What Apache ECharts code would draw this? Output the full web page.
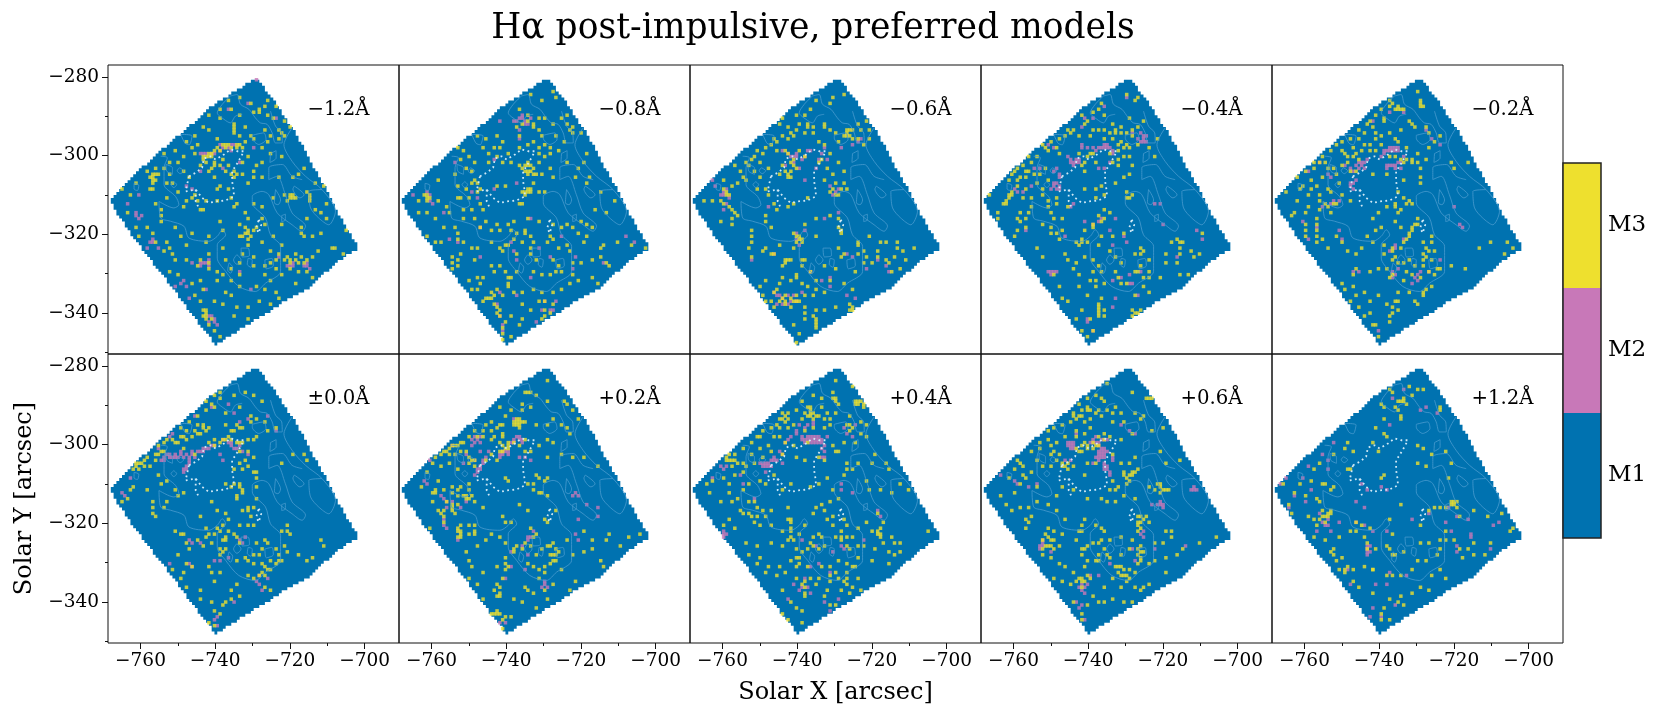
<!DOCTYPE html>
<html>
<head>
<meta charset="utf-8">
<style>html,body{margin:0;padding:0;background:#fff}#container{width:1660px;height:717px}</style>
<script src="https://cdn.jsdelivr.net/npm/echarts@6/dist/echarts.min.js"></script>
</head>
<body>
<div id="container"></div>
<script>
/* labels and ticks */
var offsets = ['−1.2Å','−0.8Å','−0.6Å','−0.4Å','−0.2Å','±0.0Å','+0.2Å','+0.4Å','+0.6Å','+1.2Å'];
var modelNames = ['M1','M2','M3'];
var modelColors = ['#0072b0','#c878b8','#eee02e'];
var xTicks = [-760,-740,-720,-700];
var xMinorTicks = [-750,-730,-710];
var yTicks = [-280,-300,-320,-340];
var yMinorTicks = [-290,-310,-330,-350];

/* map cells as col,row pairs on the 0.75 arcsec grid */
var m3_n12 = [43,12, 47,11, 51,13, 57,12, 56,14, 54,16, 54,15, 60,14, 52,16, 40,18, 47,17, 57,17, 59,18, 63,19, 65,21, 45,21, 45,22, 49,21, 34,21, 36,22, 61,22, 62,23, 63,24, 61,25, 58,24, 56,22, 31,24, 39,25, 47,24, 52,25, 57,26, 44,28, 42,28, 46,28, 48,28, 40,29, 38,29, 36,30, 30,28, 28,26, 24,29, 27,31, 31,30, 34,32, 37,31, 41,32, 50,31, 58,30, 62,31, 22,33, 25,33, 20,35, 35,33, 38,33, 33,34, 40,34, 43,34, 48,33, 55,33, 53,34, 52,36, 45,36, 36,36, 27,36, 22,37, 17,35, 21,40, 15,38, 18,37, 23,40, 29,38, 38,38, 52,38, 55,38, 50,40, 40,41, 39,42, 45,38, 70,35, 68,37, 66,38, 74,40, 77,41, 17,37, 17,39, 15,42, 21,45, 25,43, 31,44, 35,46, 39,46, 44,45, 43,42, 52,47, 55,48, 63,44, 65,44, 67,45, 64,46, 71,43, 72,46, 72,44, 79,44, 78,47, 74,49, 76,50, 17,47, 19,49, 8,44, 5,42, 7,50, 19,51, 19,53, 34,49, 40,53, 49,50, 50,52, 47,54, 49,55, 50,56, 52,56, 55,52, 56,54, 53,55, 62,54, 59,58, 69,57, 73,58, 76,57, 85,56, 30,57, 36,58, 41,56, 14,55, 16,57, 11,58, 28,61, 35,60, 41,62, 47,58, 50,61, 48,64, 52,65, 58,63, 55,60, 60,66, 63,66, 65,66, 67,64, 69,65, 71,66, 73,65, 75,63, 80,62, 84,64, 17,60, 20,63, 23,64, 28,66, 33,66, 36,64, 42,66, 47,67, 52,68, 60,69, 65,69, 22,70, 25,71, 32,68, 36,67, 36,69, 47,71, 56,71, 58,73, 62,71, 68,70, 71,70, 73,72, 30,74, 39,73, 44,73, 47,75, 42,77, 44,78, 53,75, 56,76, 60,77, 67,74, 31,78, 33,80, 35,84, 34,83, 34,85, 38,80, 41,81, 46,82, 50,82, 54,80, 58,81, 61,79, 37,86, 45,85, 50,86, 38,90, 36,88, 40,92, 42,93, 31,88, 33,90,
    16,37, 16,38, 16,39, 16,40, 45,20, 45,23, 46,27, 47,27, 43,27, 41,27, 42,27, 39,28, 37,30, 34,31, 35,31, 36,31, 38,34, 37,35, 42,36, 44,37, 46,37, 48,37, 65,45, 66,44, 66,45, 72,45, 35,83, 35,85, 35,86, 50,57, 49,57, 51,58, 48,58, 50,59, 64,65, 65,67, 67,66, 68,67, 70,67, 61,64, 30,45, 32,46, 28,46, 27,48, 33,49, 45,48, 46,47, 16,42, 24,55, 26,58, 10,55, 21,60, 22,62, 24,66, 39,70, 41,71, 33,73, 34,76, 44,69, 56,68, 58,67, 62,61, 70,58, 78,52, 81,62, 69,55, 71,52, 59,45, 61,38, 55,28, 51,24, 49,26, 44,15, 40,15, 36,17, 32,27, 20,30, 14,36, 10,40];
var m2_n12 = [53,5, 50,13, 43,15, 60,18, 52,28, 45,27, 40,29, 37,30, 33,30, 44,29, 33,36, 41,35, 47,33, 7,47, 10,51, 12,51, 16,59, 14,62, 18,62, 30,67, 33,68, 36,68, 47,70, 51,76, 61,65, 66,68, 72,69, 24,75, 28,75, 29,79, 36,87, 38,86, 39,88, 11,44, 35,76, 28,41, 30,42,
    40,27, 41,28, 43,28, 44,27, 38,30, 35,30, 34,30, 64,68, 65,68, 66,67, 70,68, 71,67, 71,68, 33,67, 34,67, 35,67, 36,66, 26,74, 27,73, 36,85, 37,85, 38,87, 10,50, 11,52, 16,60, 15,60];

var m3_n08 = [47,10, 55,9, 56,11, 51,12, 43,15, 46,17, 50,18, 46,19, 48,21, 50,22, 52,18, 58,18, 60,20, 55,20, 62,21, 65,23, 62,23, 59,26, 35,24, 31,25, 37,26, 28,24, 43,24, 46,27, 48,26, 50,28, 52,27, 54,28, 36,28, 34,28, 30,28, 23,29, 21,28, 25,31, 27,33, 32,30, 35,31, 39,30, 43,28, 50,30, 22,32, 24,35, 26,36, 32,33, 37,33, 40,33, 43,34, 46,33, 47,34, 48,35, 45,36, 46,36, 50,33, 52,31, 54,35, 51,37, 49,37, 55,38, 67,30, 66,33, 64,35, 68,38, 26,40, 28,40, 35,41, 38,41, 47,42, 46,43, 48,40, 45,44, 20,37, 21,41, 24,42, 43,47, 44,47, 50,43, 52,43, 9,44, 10,45, 21,45, 22,45, 25,45, 23,49, 26,49, 29,47, 30,49, 14,46, 17,48, 3,50, 7,50, 27,52, 31,53, 29,55, 35,54, 39,54, 41,53, 46,52, 42,57, 40,56, 20,55, 21,57, 23,52, 33,56, 36,56, 41,59, 45,56, 45,57, 50,53, 55,54, 58,55, 60,54, 62,55, 64,57, 69,55, 10,58, 13,60, 15,60, 21,59, 23,60, 28,62, 33,60, 38,61, 39,61, 36,62, 37,63, 44,60, 47,58, 54,58, 60,61, 61,63, 67,58, 66,60, 73,61, 72,62, 78,60, 83,61, 88,62, 19,65, 19,67, 19,69, 21,66, 21,68, 27,66, 33,68, 36,68, 34,70, 42,64, 47,62, 49,66, 55,66, 57,68, 62,67, 65,67, 69,66, 72,65, 74,67, 75,68, 28,72, 30,72, 38,70, 39,72, 39,74, 42,70, 48,70, 51,71, 54,71, 56,70, 58,70, 62,71, 64,73, 69,72, 71,74, 26,76, 28,76, 35,76, 37,78, 31,79, 32,79, 33,79, 30,80, 41,77, 44,77, 48,76, 51,77, 55,77, 58,76, 61,74, 27,81, 35,82, 35,84, 36,85, 44,81, 47,83, 50,80, 52,83, 54,84, 55,81, 44,86, 43,88, 40,85, 38,87, 37,89, 37,91, 37,93, 40,92,
    46,42, 47,43, 45,43, 44,43, 46,34, 45,34, 47,36, 46,37, 48,37, 44,35, 10,44, 10,46, 11,45, 39,75, 40,72, 42,21, 48,20, 44,20, 51,24, 56,24, 60,17, 61,22, 57,29, 54,30, 60,33, 63,38, 67,40, 72,43, 77,46, 70,49, 74,50, 65,53, 67,54, 53,60, 55,59, 57,62, 47,64, 48,60, 33,77, 34,78, 29,74, 25,73, 34,81, 36,83, 52,80, 52,85, 51,86, 22,64, 26,62, 16,55, 18,50, 13,52, 10,50, 7,46, 14,39, 29,42, 27,39, 28,43];
var m2_n08 = [44,18, 42,19, 45,19, 47,18, 41,19, 36,19, 43,22, 43,25, 20,33, 34,32, 42,40, 26,43, 10,43, 11,46, 5,44, 12,47, 16,50, 29,55, 18,59, 21,60, 29,65, 42,66, 50,62, 54,65, 63,65, 73,67, 81,58, 84,60, 35,81, 36,77, 52,80, 51,83, 54,83, 37,90, 49,87, 36,85,
    44,17, 43,18, 46,20, 45,20, 11,44, 28,45, 34,42, 47,52, 58,58, 40,60, 41,63, 47,72, 55,83, 56,80, 62,69, 37,88, 42,78];

var m3_n06 = [51,11, 55,10, 50,13, 45,12, 38,17, 33,18, 32,20, 35,21, 36,23, 38,22, 41,23, 44,23, 48,21, 50,22, 52,23, 42,21, 56,22, 57,22, 56,24, 60,20, 63,19, 61,22, 64,25, 62,27, 58,25, 53,26, 48,27, 46,26, 30,25, 31,26, 27,28, 23,31, 25,33, 21,34, 18,36, 16,34, 28,35, 33,34, 32,37, 35,30, 36,33, 34,36, 35,38, 37,34, 39,29, 41,31, 46,33, 47,32, 50,30, 49,35, 51,37, 48,39, 52,40, 53,33, 55,36, 55,40, 56,42, 53,44, 19,38, 17,40, 27,42, 24,42, 28,44, 30,47, 35,48, 31,49, 37,47, 42,45, 8,46, 5,46, 11,46, 14,48, 15,49, 15,52, 15,54, 17,51, 27,51, 27,53, 29,55, 50,51, 53,52, 45,52, 41,54, 53,55, 54,57, 54,56, 39,58, 38,60, 39,59, 40,60, 45,58, 37,62, 32,61, 29,64, 27,62, 26,63, 22,65, 30,64, 22,60, 21,62, 64,58, 60,61, 60,64, 63,65, 70,60, 74,60, 80,62, 77,66, 73,65, 71,67, 75,69, 67,63, 70,66, 35,66, 33,68, 34,66, 40,68, 40,66, 41,66, 43,70, 45,73, 50,73, 52,69, 54,65, 59,70, 62,67, 65,67, 62,63, 16,70, 16,72, 20,74, 25,75, 27,73, 32,74, 31,76, 33,72, 36,73, 38,72, 40,74, 42,75, 45,76, 48,77, 55,74, 58,76, 26,78, 27,80, 30,77, 34,78, 38,80, 41,78, 36,82, 34,80, 41,82, 44,78, 41,86, 45,83, 44,85, 45,87, 52,82, 57,81, 58,83, 56,86, 37,88, 39,91, 38,94, 40,94, 48,83,
    33,79, 34,81, 29,80, 30,82, 32,80, 36,79, 37,80, 38,78, 39,80, 41,84, 45,86, 45,88, 45,89, 57,83, 58,82, 38,71, 36,66, 34,67, 40,59, 38,58, 37,57, 36,38, 35,37, 36,36, 37,32, 34,29, 38,35, 51,42, 50,43, 52,44, 54,42, 13,43, 12,42, 13,44, 56,23, 55,24, 57,24, 58,22, 64,22, 60,25, 48,20, 42,20, 44,21, 16,50, 12,47, 11,53, 22,56, 22,58, 67,65, 68,60, 74,62, 76,63, 72,70, 53,62, 55,64, 48,68, 60,60,
    20,33, 22,32, 24,29, 26,30, 29,27, 31,29, 33,24, 35,25, 37,24, 39,20, 41,17, 43,15, 23,36, 25,38, 20,39, 15,41, 12,39, 14,44];
var m2_n06 = [48,28, 42,29, 41,31, 37,33, 33,29, 35,30, 39,35, 43,29, 45,35, 49,32, 41,39, 52,43, 51,44, 12,43, 11,44, 13,42, 9,41, 8,39, 13,47, 12,49, 34,34, 53,50, 41,56, 38,57, 48,52, 28,48, 56,64, 67,66, 71,70, 58,65, 30,64, 33,79, 35,78, 37,78, 38,80, 31,81, 30,77, 40,77, 47,73, 50,72, 50,75, 43,70, 22,66, 56,78, 59,79, 33,81,
    14,45, 12,44, 36,31, 37,31, 38,31, 38,30, 40,32, 53,42, 50,41, 38,59, 39,61, 31,78, 32,78, 35,81, 36,80, 58,27, 61,25, 60,26, 54,28, 70,68, 63,69, 47,30, 46,32];

var m3_n04 = [52,10, 56,11, 55,12, 43,13, 44,17, 37,20, 38,19, 31,22, 32,23, 42,22, 44,22, 46,23, 48,22, 50,21, 54,24, 56,21, 58,19, 47,20, 53,18, 39,24, 40,22, 44,25, 47,25, 50,26, 56,27, 60,28, 63,25, 22,27, 24,29, 27,28, 28,30, 35,30, 39,30, 46,30, 49,32, 53,28, 51,31, 53,31, 62,31, 17,31, 15,34, 12,36, 14,38, 16,38, 10,39, 11,37, 23,35, 24,39, 37,36, 41,33, 47,33, 49,34, 51,38, 54,34, 53,37, 11,44, 10,45, 9,46, 8,47, 20,40, 22,42, 37,42, 41,42, 43,41, 44,44, 52,43, 52,45, 54,44, 3,44, 18,48, 17,50, 16,52, 6,50, 6,52, 24,48, 25,50, 31,48, 29,52, 42,51, 44,52, 46,50, 44,49, 40,54, 14,53, 13,56, 12,58, 22,54, 25,55, 27,57, 28,59, 34,60, 36,59, 38,60, 43,58, 47,58, 51,57, 37,56, 40,55, 20,62, 22,65, 30,64, 31,66, 34,67, 37,65, 40,66, 33,69, 35,71, 42,61, 46,63, 48,65, 50,67, 55,64, 58,63, 57,62, 60,66, 66,64, 26,71, 42,68, 43,70, 48,70, 49,72, 57,68, 60,70, 72,60, 75,63, 79,57, 76,65, 78,64, 70,67, 71,71, 74,71, 41,75, 44,74, 50,74, 52,74, 55,78, 58,75, 60,77, 28,75, 29,79, 31,80, 35,75, 38,78, 43,79, 41,73, 42,81, 42,83, 44,83, 44,85, 42,85, 54,83, 55,85, 56,84, 34,86, 36,83, 39,86, 38,92, 36,90, 40,90,
    9,47, 10,44, 11,43, 13,39, 16,42, 17,36, 13,35, 22,44, 24,46, 48,23, 50,23, 52,23, 54,22, 49,27, 52,27, 40,30, 37,33, 36,34, 38,31, 49,29, 51,28, 27,45, 27,47, 26,52, 25,57, 29,56, 14,50, 13,52, 16,55, 42,82, 42,84, 55,84, 54,85, 57,83, 40,70, 39,73, 36,60, 35,61, 66,67, 70,59, 71,60, 71,62, 71,64, 68,60, 56,70, 58,72, 60,72, 64,72, 57,64, 55,70, 43,53, 41,45, 53,45, 48,40,
    18,33, 20,31, 23,28, 25,26, 28,25, 30,24, 33,22, 35,24, 36,17, 40,16, 42,15, 19,37, 16,36, 13,41, 15,45, 18,45, 21,37];
var m2_n04 = [45,27, 44,28, 43,28, 46,28, 42,28, 41,29, 40,28, 38,28, 34,33, 33,33, 32,33, 35,32, 32,32, 31,31, 27,35, 26,36, 28,37, 27,40, 26,41, 28,41, 27,42, 58,24, 58,25, 58,26, 57,26, 56,25, 42,35, 44,35, 47,30, 46,33, 37,18, 44,14, 52,11, 36,21, 40,18, 24,27, 26,28, 36,27, 12,42, 13,43, 15,43, 18,41, 19,35, 21,35, 33,47, 32,48, 37,53, 40,54, 16,56, 30,58, 52,60, 51,58, 47,73, 50,72, 24,70, 25,70, 26,70, 53,71, 54,74, 48,79, 47,82, 38,86, 40,90, 62,47, 64,47, 77,56, 79,59, 70,65, 65,54,
    44,27, 45,28, 47,29, 36,28, 35,33, 34,32, 33,34, 28,42, 26,40, 25,42, 28,38, 54,23, 57,23, 59,26, 59,24, 25,71, 27,70, 53,74, 56,78, 57,70, 47,61, 43,52, 42,53, 38,87, 46,56, 48,52];

var m3_n02 = [43,13, 45,14, 53,12, 53,13, 52,9, 47,7, 40,18, 35,19, 36,21, 37,23, 39,24, 33,23, 31,25, 42,23, 44,25, 46,22, 50,20, 51,21, 55,21, 56,23, 60,24, 58,26, 56,28, 23,27, 25,29, 29,28, 27,31, 33,27, 35,29, 31,32, 37,29, 39,27, 45,26, 48,28, 52,30, 52,33, 55,32, 53,35, 47,33, 50,32, 64,33, 65,35, 70,33, 19,33, 20,35, 15,35, 17,33, 23,37, 25,34, 14,39, 9,38, 11,41, 13,44, 16,41, 20,42, 24,40, 30,36, 36,37, 41,37, 47,39, 53,38, 53,40, 21,43, 25,44, 28,46, 22,47, 20,48, 17,49, 13,48, 9,46, 5,43, 8,50, 7,51, 12,50, 45,43, 47,45, 49,46, 50,47, 44,47, 41,48, 45,50, 38,50, 36,52, 44,53, 46,55, 39,55, 37,56, 34,58, 16,52, 16,54, 16,56, 12,54, 12,56, 12,58, 23,58, 25,60, 52,52, 51,54, 50,56, 49,58, 47,60, 54,60, 55,62, 46,62, 43,62, 40,61, 36,60, 32,62, 30,64, 27,63, 18,59, 20,62, 44,65, 47,67, 49,66, 51,68, 56,63, 57,66, 60,69, 64,68, 69,69, 74,62, 78,60, 84,60, 86,62, 83,64, 30,69, 29,71, 35,70, 38,69, 41,69, 43,71, 47,73, 45,77, 50,71, 53,72, 56,70, 58,71, 54,77, 26,76, 30,78, 33,77, 35,80, 31,82, 38,78, 41,81, 42,85, 42,87, 43,82, 45,83, 49,77, 51,80, 52,81, 54,78, 36,88, 38,92, 33,85, 28,80,
    40,19, 44,15, 45,15, 46,15, 47,15, 42,14, 53,14, 54,14, 49,19, 37,25, 35,27, 32,29, 29,31, 27,33, 28,36, 30,30, 42,31, 44,31, 46,32, 48,32, 50,33, 17,44, 17,46, 19,47, 23,47, 21,50, 16,58, 16,60, 44,48, 46,49, 48,47, 52,54, 50,55, 49,57, 48,59, 58,63, 57,60, 57,58, 43,66, 45,67, 43,63, 40,64, 54,64, 55,65, 59,69, 48,70, 43,71, 42,72, 44,80, 45,80, 43,84, 54,66, 54,68, 57,75, 55,76, 35,84, 37,88, 29,75, 25,74,
    15,33, 12,36, 18,31, 21,29, 25,26, 28,25, 31,22, 34,20, 37,17, 39,15, 42,12, 10,42, 14,42, 18,38, 22,35, 26,30];
var m2_n02 = [42,28, 43,28, 44,28, 41,29, 42,29, 43,29, 44,29, 40,29, 33,33, 32,33, 32,34, 31,35, 33,35, 28,35, 26,34, 29,40, 28,41, 30,39, 42,34, 43,34, 44,35, 45,33, 41,35, 47,31, 47,16, 42,16, 36,19, 55,22, 57,25, 60,27, 21,38, 17,33, 13,36, 21,47, 18,48, 11,53, 13,59, 24,56, 47,59, 44,61, 45,69, 44,71, 51,72, 53,70, 50,74, 29,70, 31,70, 67,54, 68,55, 65,48, 60,66, 56,70, 38,90,
    45,28, 45,29, 40,30, 39,31, 31,33, 34,32, 30,34, 29,36, 44,34, 46,33, 46,35, 41,34, 28,40, 29,42, 20,37, 22,46, 24,46, 16,55, 25,59, 42,63, 44,62, 43,70, 43,72, 52,73, 52,71];

var m3_p00 = [46,6, 50,6, 45,9, 43,9, 44,9, 38,14, 40,13, 45,14, 49,13, 52,14, 55,16, 37,17, 35,19, 42,20, 47,18, 51,21, 42,24, 44,26, 34,25, 35,26, 31,26, 33,27, 32,24, 27,28, 28,29, 36,30, 38,31, 40,30, 42,29, 44,29, 46,30, 48,30, 50,29, 53,28, 57,26, 60,25, 16,31, 15,32, 13,33, 17,34, 9,37, 10,38, 11,39, 9,39, 7,38, 6,36, 12,37, 15,38, 17,36, 20,33, 24,30, 27,32, 31,34, 47,33, 50,33, 52,35, 49,36, 50,38, 45,39, 53,40, 62,37, 66,34, 70,34, 71,36, 18,41, 21,43, 19,44, 14,46, 9,45, 7,49, 5,50, 8,46, 24,46, 25,48, 27,47, 45,44, 47,45, 48,46, 46,48, 46,49, 53,45, 16,50, 16,52, 16,54, 17,55, 20,52, 21,50, 37,50, 33,55, 39,53, 42,54, 48,53, 50,52, 11,61, 11,62, 11,63, 11,64, 24,60, 26,61, 27,61, 28,64, 35,59, 36,61, 35,62, 37,64, 40,60, 42,62, 45,61, 47,58, 50,58, 52,58, 29,66, 32,63, 34,65, 40,66, 40,68, 42,66, 41,67, 46,62, 47,64, 53,64, 56,63, 57,64, 58,70, 55,66, 54,68, 64,58, 62,60, 25,68, 28,71, 30,72, 36,72, 37,74, 46,70, 50,70, 52,71, 55,71, 56,72, 57,73, 55,74, 60,71, 68,68, 71,70, 73,69, 76,63, 77,65, 23,73, 26,76, 27,74, 28,79, 33,80, 38,77, 40,74, 44,80, 46,78, 50,75, 52,76, 54,75, 56,79, 58,80, 33,83, 37,84, 38,87, 41,85, 36,91, 35,93, 38,92, 40,88, 42,84, 47,82, 44,83,
    10,37, 11,37, 13,38, 14,35, 18,34, 19,33, 21,29, 26,28, 28,26, 25,30, 30,28, 32,27, 34,24, 36,25, 38,29, 41,29, 43,28, 47,30, 52,29, 48,25, 46,24, 47,25, 45,26, 51,23, 53,22, 56,23, 47,37, 48,39, 52,40, 53,42, 48,47, 47,44, 44,45, 42,44, 53,49, 52,52, 51,55, 50,53, 43,56, 41,58, 39,59, 38,61, 41,63, 43,60, 42,63, 64,67, 63,65, 61,68, 60,66, 61,70, 62,70, 49,69, 52,68, 58,73, 56,75, 64,60, 65,61,
    13,36, 18,31, 20,30, 23,29, 26,25, 29,23, 32,21, 35,16, 38,18, 40,15];
var m2_p00 = [38,31, 36,32, 34,32, 33,33, 30,33, 28,34, 26,34, 25,35, 24,34, 22,35, 20,35, 19,36, 18,32, 23,27, 22,28, 28,38, 29,37, 27,39, 31,35, 29,35, 44,30, 46,32, 50,34, 45,20, 47,23, 37,18, 43,17, 30,20, 31,21, 50,22, 57,21, 60,26, 41,36, 8,42, 5,47, 6,48, 29,63, 33,64, 43,69, 47,63, 29,71, 30,72, 22,71, 38,70, 40,70, 53,77, 54,78, 55,80, 45,84, 38,90, 39,89,
    34,33, 32,33, 35,32, 37,31, 41,29, 43,30, 45,32, 47,31, 20,36, 21,34, 22,34, 23,35, 24,35, 26,33, 27,35, 30,34, 28,39, 27,40, 29,36, 44,31, 48,33, 40,34, 30,64, 48,64, 49,62, 54,75, 57,76, 39,92];

var m3_p02 = [50,6, 53,9, 45,13, 46,13, 47,13, 49,14, 44,17, 44,19, 47,18, 53,16, 59,16, 60,17, 62,19, 64,22, 41,23, 42,23, 43,22, 43,24, 43,25, 45,23, 49,24, 53,24, 55,22, 58,24, 60,25, 61,27, 37,24, 36,24, 35,25, 31,24, 33,26, 34,28, 37,27, 30,28, 28,28, 22,30, 20,31, 17,33, 21,31, 13,35, 12,37, 15,38, 18,37, 24,33, 36,33, 39,31, 50,31, 53,29, 55,30, 35,36, 31,36, 33,34, 25,35, 27,38, 37,31, 39,32, 45,33, 47,33, 53,35, 58,34, 62,35, 66,35, 71,38, 38,42, 39,43, 50,42, 52,43, 46,44, 48,44, 21,39, 14,43, 8,45, 13,47, 25,44, 22,45, 16,46, 19,45, 17,50, 19,47, 21,48, 24,48, 21,51, 25,49, 27,50, 25,46, 48,46, 50,47, 51,47, 53,48, 49,41, 53,42, 12,50, 14,53, 15,54, 16,53, 16,55, 16,57, 20,54, 25,58, 30,52, 38,57, 40,57, 37,55, 43,51, 46,53, 56,53, 53,57, 52,56, 11,59, 11,61, 11,63, 21,59, 22,60, 22,62, 25,61, 27,61, 31,63, 33,61, 38,64, 36,62, 41,66, 45,64, 48,62, 47,65, 28,65, 24,67, 49,68, 51,66, 55,68, 57,67, 56,66, 60,63, 66,60, 69,63, 69,66, 74,63, 75,61, 82,62, 86,61, 79,65, 25,70, 26,72, 30,74, 35,72, 38,71, 39,72, 46,71, 48,72, 50,73, 52,74, 54,71, 55,70, 58,73, 62,68, 66,67, 72,70, 73,72, 25,76, 28,78, 34,80, 35,78, 37,76, 36,79, 46,80, 45,79, 52,80, 55,78, 61,80, 63,77, 30,83, 36,82, 41,83, 44,84, 48,81, 53,83, 49,86, 35,87, 36,88, 38,89, 40,89, 37,93,
    42,22, 42,24, 43,23, 44,23, 41,24, 37,28, 36,30, 33,29, 37,33, 38,32, 39,30, 41,30, 43,31, 45,29, 27,36, 26,36, 25,37, 22,33, 20,34, 19,31, 18,32, 16,33, 19,51, 19,52, 19,53, 21,46, 23,48, 26,48, 24,49, 13,46, 12,47, 21,60, 21,62, 22,61, 22,58, 27,58, 27,60, 55,64, 54,65, 54,68, 56,68, 56,70, 53,65, 44,66, 42,65, 41,67, 38,69, 38,73, 52,72, 50,76, 33,88, 34,88, 35,88, 37,90, 35,82, 36,81, 47,59, 49,61,
    15,34, 18,34, 23,30, 25,28, 27,26, 30,26, 33,23, 36,18, 38,21, 40,19, 10,40];
var m2_p02 = [42,28, 43,28, 44,29, 41,29, 40,30, 38,33, 37,34, 36,35, 39,34, 27,28, 28,29, 29,30, 26,31, 30,37, 29,38, 28,39, 28,40, 27,41, 27,36, 24,34, 23,37, 19,31, 17,30, 11,36, 41,22, 29,33, 32,33, 10,44, 9,43, 16,49, 17,50, 15,48, 45,35, 47,36, 43,35, 16,58, 17,59, 16,56, 21,63, 62,48, 63,47, 67,51, 64,56, 71,52, 64,63, 71,55, 46,62, 46,68, 45,73, 38,76, 52,78, 53,79, 40,72, 44,65, 48,60, 36,91, 38,91,
    43,29, 44,30, 41,30, 39,33, 37,33, 36,34, 27,30, 29,28, 26,29, 29,39, 30,36, 31,35, 17,52, 19,50, 22,52, 24,50, 46,63, 47,62, 40,67, 51,79, 52,77, 63,61, 64,48];

var m3_p04 = [52,9, 51,13, 58,11, 59,16, 60,17, 62,18, 57,21, 52,15, 47,15, 43,18, 42,18, 41,20, 43,21, 44,22, 33,20, 32,22, 34,23, 35,22, 31,24, 37,24, 40,22, 46,21, 50,24, 48,25, 44,25, 41,26, 52,20, 56,24, 57,26, 61,23, 63,24, 59,30, 61,27, 63,28, 26,26, 24,28, 28,31, 30,28, 32,28, 34,30, 37,31, 42,30, 51,31, 55,30, 53,33, 13,35, 14,34, 17,37, 20,38, 22,34, 25,32, 29,33, 33,34, 38,35, 41,36, 46,35, 48,36, 52,33, 56,37, 58,39, 60,37, 65,37, 66,34, 70,37, 71,39, 15,38, 12,42, 8,43, 6,44, 19,40, 21,44, 25,43, 27,44, 30,41, 33,46, 36,44, 43,45, 46,44, 49,42, 51,46, 53,49, 55,41, 56,39, 63,43, 64,46, 68,46, 72,47, 75,44, 78,46, 19,46, 17,49, 15,50, 14,47, 11,50, 7,47, 21,50, 23,50, 24,52, 26,53, 29,53, 35,52, 36,56, 45,52, 44,54, 47,51, 50,50, 12,58, 14,56, 16,59, 24,55, 23,57, 25,58, 27,55, 29,58, 35,56, 39,61, 36,59, 37,63, 33,60, 41,58, 49,56, 51,55, 48,53, 51,58, 55,56, 56,58, 60,59, 63,57, 67,54, 69,57, 68,59, 68,61, 20,64, 24,65, 29,64, 35,63, 33,65, 38,66, 43,64, 46,66, 48,65, 52,62, 54,63, 56,62, 58,62, 60,65, 62,65, 66,66, 69,64, 73,68, 75,64, 85,60, 21,68, 25,69, 24,71, 28,72, 32,72, 36,70, 38,69, 39,71, 42,72, 47,72, 50,72, 53,70, 56,71, 59,72, 60,69, 65,70, 71,71, 27,74, 31,75, 34,74, 38,76, 40,78, 41,79, 41,81, 46,76, 50,75, 53,76, 56,74, 58,79, 57,81, 55,77, 49,80, 33,80, 36,84, 38,86, 40,87, 45,78, 48,82, 50,85, 52,85, 54,80, 60,76, 61,80, 33,88, 35,90, 40,91, 43,93,
    43,19, 43,20, 42,21, 44,20, 45,21, 34,21, 33,22, 35,20, 13,36, 15,36, 14,36, 16,36, 60,16, 61,16, 62,17, 59,17, 51,15, 52,16, 53,17, 49,20, 50,22, 48,22, 57,24, 58,25, 21,54, 22,55, 19,54, 18,53, 65,60, 67,60, 68,62, 67,61, 36,57, 36,60, 36,62, 54,60, 54,62, 57,66, 56,65, 44,65, 42,66, 40,67, 39,69, 38,72, 44,62, 46,61, 47,62, 41,77, 41,82, 43,76, 56,76, 56,78, 58,72, 52,74, 50,77, 72,62, 73,64, 71,67, 75,67,
    16,34, 19,32, 22,30, 25,28, 29,25, 32,25, 35,25, 38,19, 40,16, 44,14, 47,18, 16,41, 14,44, 19,37, 23,37, 26,35];
var m2_p04 = [41,29, 42,29, 43,29, 44,29, 45,29, 46,29, 47,30, 43,30, 44,30, 45,30, 40,28, 38,27, 36,28, 34,30, 32,33, 30,35, 28,37, 27,37, 26,38, 25,37, 33,37, 29,38, 47,32, 48,33, 46,28, 39,24, 41,25, 44,24, 56,27, 55,25, 13,38, 12,39, 11,38, 18,41, 19,44, 27,40, 8,42, 23,49, 12,60, 12,62, 12,63, 54,44, 58,47, 67,53, 68,55, 62,63, 46,71, 51,67, 54,65, 50,74, 39,80, 35,83, 37,78, 42,79, 43,81, 48,84, 50,87, 54,88, 53,83, 40,63, 45,65, 43,72, 55,66,
    42,28, 43,28, 44,28, 45,28, 41,30, 46,30, 47,29, 48,31, 40,29, 38,26, 35,29, 33,34, 31,36, 30,36, 29,36, 28,38, 27,38, 26,37, 49,28, 11,61, 12,61, 13,61, 41,76, 40,79, 48,35, 47,35, 44,23, 42,24, 58,28, 59,24, 54,46];

var m3_p06 = [45,10, 60,15, 59,15, 61,15, 54,13, 43,15, 44,16, 38,18, 36,19, 33,20, 34,22, 35,21, 39,22, 41,20, 45,19, 48,18, 50,20, 47,20, 51,23, 55,20, 58,21, 57,22, 61,26, 65,25, 34,26, 34,28, 37,27, 39,25, 42,28, 44,27, 46,28, 40,30, 38,31, 36,31, 34,32, 30,28, 27,30, 26,33, 24,29, 21,32, 47,23, 50,29, 54,27, 13,36, 14,37, 15,38, 20,36, 25,31, 28,34, 29,38, 31,39, 33,38, 35,33, 41,37, 38,37, 37,41, 47,34, 50,37, 51,40, 55,35, 53,37, 64,33, 66,37, 71,36, 52,42, 53,41, 54,41, 53,43, 55,40, 49,45, 48,46, 47,43, 64,45, 62,46, 66,46, 67,46, 60,45, 16,42, 14,44, 10,42, 7,48, 12,47, 20,45, 20,50, 17,52, 14,52, 9,51, 11,53, 24,51, 27,48, 29,45, 33,46, 38,49, 43,49, 46,46, 48,50, 45,50, 51,48, 55,49, 16,56, 17,57, 18,55, 16,59, 27,53, 30,56, 37,56, 36,58, 35,60, 24,59, 26,60, 41,58, 43,59, 57,55, 57,57, 56,58, 57,59, 56,60, 58,56, 60,57, 23,61, 25,63, 28,65, 22,63, 29,61, 34,63, 37,66, 38,65, 40,64, 43,63, 36,60, 42,64, 44,60, 46,63, 50,62, 54,63, 57,65, 62,64, 65,64, 68,62, 66,60, 68,60, 22,66, 22,68, 25,69, 26,66, 36,68, 36,66, 42,68, 41,70, 46,69, 50,68, 53,66, 56,68, 58,67, 62,70, 66,69, 70,68, 72,66, 78,64, 84,62, 28,71, 30,72, 33,74, 37,72, 38,70, 48,72, 49,74, 51,75, 52,75, 53,73, 55,74, 57,70, 56,71, 60,71, 26,76, 29,77, 32,78, 34,77, 35,76, 36,79, 44,79, 47,76, 50,79, 55,79, 57,80, 58,79, 60,78, 66,74, 33,84, 38,85, 40,82, 36,88, 36,90, 42,84, 44,84, 47,83, 51,84, 54,84,
    52,44, 54,40, 51,41, 56,39, 33,21, 36,21, 38,19, 37,23, 39,19, 42,19, 43,21, 44,29, 42,31, 41,31, 40,32, 38,32, 37,30, 36,33, 25,34, 27,36, 29,37, 30,38, 31,37, 56,55, 59,55, 56,57, 23,65, 24,62, 24,65, 25,65, 26,63, 42,70, 44,66, 45,68, 50,72, 51,73, 50,75, 53,76, 52,77, 49,72, 57,69, 57,67, 56,66, 36,76, 38,75, 37,77, 39,76, 36,77, 64,47, 65,46, 64,44, 63,44,
    18,33, 21,30, 24,26, 26,25, 29,24, 32,23, 35,17, 38,15, 41,14, 12,39, 15,41, 18,40, 22,38, 25,38];
var m2_p06 = [32,30, 33,30, 32,31, 33,31, 32,32, 39,30, 40,29, 41,28, 42,30, 43,29, 44,29, 45,29, 42,33, 43,33, 42,34, 43,34, 41,35, 44,32, 45,33, 44,37, 44,38, 45,39, 46,40, 40,37, 47,35, 34,27, 30,36, 32,36, 50,24, 53,26, 55,27, 13,44, 12,43, 20,44, 17,45, 7,41, 76,46, 77,46, 75,46, 64,51, 65,52, 63,51, 61,51, 58,60, 57,61, 22,63, 21,65, 22,64, 25,67, 54,66, 46,71, 42,75, 39,75, 35,79, 36,78, 37,81, 34,84, 36,85, 35,86, 55,70, 62,66, 73,65, 37,90,
    33,32, 31,30, 31,31, 40,30, 41,30, 42,31, 43,32, 44,33, 44,34, 44,35, 42,35, 43,35, 42,36, 45,38, 44,39, 46,41, 47,36, 76,45, 21,66, 22,65, 37,79, 38,78, 36,80, 64,50, 65,51, 58,62];

var m3_p12 = [49,11, 50,14, 47,15, 43,13, 42,12, 54,12, 46,21, 46,22, 45,19, 39,17, 40,18, 40,22, 52,12, 60,18, 63,17, 37,25, 40,27, 41,28, 26,32, 22,34, 27,30, 29,33, 36,30, 38,33, 54,32, 52,31, 57,34, 62,33, 64,37, 15,39, 14,43, 18,44, 17,37, 27,39, 28,39, 40,41, 39,42, 63,42, 52,37, 55,38, 3,43, 4,44, 10,44, 8,47, 12,48, 16,49, 19,44, 21,46, 22,45, 17,50, 6,51, 7,54, 13,55, 15,56, 16,58, 18,53, 19,55, 20,54, 21,53, 30,57, 32,58, 35,59, 42,56, 46,51, 53,58, 56,53, 58,52, 60,52, 62,52, 64,51, 65,50, 67,55, 72,53, 77,55, 82,54, 86,59, 24,62, 19,63, 15,62, 13,65, 30,60, 33,62, 28,60, 43,61, 44,68, 41,65, 47,67, 53,64, 56,64, 60,63, 67,66, 65,63, 70,66, 72,64, 22,66, 21,67, 25,69, 37,66, 42,66, 43,68, 52,70, 55,70, 59,68, 60,66, 68,69, 72,68, 76,68, 78,64, 85,60, 24,73, 26,73, 29,73, 33,72, 36,73, 41,75, 43,75, 46,75, 50,73, 57,75, 60,73, 62,76, 29,77, 31,79, 36,81, 42,83, 46,82, 50,81, 53,79, 56,80, 39,88, 39,90, 42,90, 47,85, 45,84, 40,86,
    19,57, 20,55, 21,54, 17,56, 18,55, 65,51, 66,50, 64,50, 66,52, 62,60, 62,63, 46,16, 47,16, 48,17, 45,16, 44,18, 60,19, 27,72, 26,74, 34,66, 34,64, 36,73, 22,68, 23,70];
var m2_p12 = [36,14, 43,15, 53,19, 55,18, 59,20, 42,24, 47,12, 20,36, 20,39, 18,34, 22,30, 13,38, 34,46, 39,45, 41,46, 32,44, 33,52, 30,50, 8,48, 12,50, 6,52, 17,54, 18,57, 21,60, 16,60, 20,56, 24,57, 30,57, 33,58, 36,60, 34,67, 35,67, 34,68, 41,60, 50,56, 56,54, 66,55, 70,56, 79,58, 81,57, 63,52, 62,57, 64,60, 66,65, 66,67, 71,61, 71,62, 78,66, 48,75, 42,74, 41,78, 27,73, 28,78, 37,78, 44,85, 36,86, 39,89, 35,89,
    34,66, 34,65, 35,65, 20,58, 19,58, 3,44, 5,42, 11,42, 14,46];

var m3Cells = [m3_n12, m3_n08, m3_n06, m3_n04, m3_n02, m3_p00, m3_p02, m3_p04, m3_p06, m3_p12];
var m2Cells = [m2_n12, m2_n08, m2_n06, m2_n04, m2_n02, m2_p00, m2_p02, m2_p04, m2_p06, m2_p12];

/* field of view outline and contours, same grid */
var fieldOutline = [[0.4,45.6],[7.5,38.8],[15.2,32],[23.5,25.2],[31.3,19],[37.8,13.3],[43.7,10],[49.1,6.6],[53.5,4.5],
    [56.2,8.3],[59.8,12.8],[63.3,17.9],[66.9,23],[70.5,29.2],[72.8,33.7],[77,40.5],[81.2,48.4],[85.3,55.2],[89.5,62],
    [81.2,67.1],[71.7,75.6],[65.7,78.4],[58.6,82.9],[47.9,89.1],[38.4,94.8],
    [34.8,90.3],[30.1,84.6],[19.4,71],[14.6,65.4],[7.5,56.3],[2.7,49.5]];
var contours = [
    [[18.8,30.9],[21.2,31.4],[20,34.8],[20,40.5],[24.1,44.5],[25.3,47.3],[23.5,48.4],[18.2,46.2],[18.8,51.8],[22.3,52.9],[27.1,54.6],[28.9,58.6],[36,59.7],[39,58],[40.8,55.8],[42,57.5],[39,60.9],[39,65.4],[42,69.9],[46.7,75],[52.6,76.7],[56.2,73.9],[61.6,69.9],[61.6,61.4],[58,57.5],[56.2,51.8],[51.5,46.7],[51.5,44.5],[55,42.8],[57.4,43.9],[60.4,50.1],[65.7,54.1],[69.3,56.3],[70.5,54.6],[65.7,50.1],[63.3,43.9],[60.4,37.7],[57.4,38.8],[57.4,34.8],[62.2,33.7],[65.7,37.7],[69.3,38.8]],
    [[43.7,10.5],[46.1,10],[47.3,13.3],[50.3,15],[52.6,17.9],[54.4,19.6],[56.8,20.1],[58.6,23],[59.8,26.4],[62.2,26.4],[62,23],[59.8,20.7],[58,15.6]],
    [[43.7,10.5],[40.8,13.3],[39,16.2],[41.4,18.4],[43.7,19.6],[45.5,17.3],[47.9,16.7]],
    [[65.7,21.3],[62.8,27],[65.7,32.6],[70.5,37.7],[76.4,42.2],[81.2,49.5],[78.8,54.1],[75.2,51.8],[72.3,48.4],[71.7,42.8],[76.4,42.2]],
    [[51.5,23.8],[55.6,23],[56.4,25.2],[53.8,26.9],[51.5,24.8],[51.5,23.8]],
    [[59.8,42.2],[61.6,45.7],[60.7,47.3],[59.4,46.7],[59.8,42.2]],
    [[62,51],[63.3,50.5],[63.3,52.5],[62,53],[62,51]],
    [[9.3,40.1],[11,40.7],[10.5,42.5],[9.3,42],[9.3,40.1]],
    [[20.7,33.7],[23,34.8],[23,37],[21,36],[20.7,33.7]],
    [[26,23.5],[30,24],[29,27],[27.5,26.5],[26,23.5]],
    [[46,64.2],[47.5,66],[46,67.5],[44.8,66],[46,64.2]],
    [[47.5,62],[50,62],[50.5,64.5],[48,65],[47.5,62]],
    [[50,65.5],[51.5,66],[51,68.5],[49.7,67.5],[50,65.5]],
    [[43.2,67],[44.5,68.5],[43.8,70.5],[42.7,69.5],[43.2,67]],
    [[56,66],[58.5,65.5],[59,68],[56.5,69],[56,66]],
    [[58,30],[60,29],[60,31.5],[57.8,33],[58,30]],
    [[66.5,41],[70,44],[68.5,45],[66,42],[66.5,41]],
    [[23.5,39.5],[24.5,40.5],[23.5,41.5],[22.5,40.5],[23.5,39.5]],
    [[25.5,34.8],[27,35.8],[25.8,36.8],[24.7,35.8],[25.5,34.8]]
];
var dottedContours = [
    [[28.9,37.7],[31.3,36.5],[33.6,34.8],[34.2,31.7],[36.6,30.9],[38.4,32],[41.4,30.3],[43.7,28.6],[46.1,29.2],[48.5,29.2],[47.3,31.4],[45.5,34.3],[44.3,36],[44.3,39.4],[44.9,42.8],[44.9,44.5],[41.9,45.9],[38.4,46.2],[36,46.7],[33.6,45],[31.3,42.2],[27.7,42.8],[28.9,37.7]],
    [[31.3,42.2],[31.3,46.2],[32.4,48.4]],
    [[53.8,52.4],[54.7,54.1],[53.8,56.9],[52.9,55.2],[53.8,52.4]]
];

/* layout */
var CELL = 0.75, X0 = -768.7, Y0 = -277;
var xMin = -768.7, xMax = -690.8, yMin = -350.4, yMax = -277;
var panelLefts = [108,399,690,981,1272];
var panelTops = [65,354];
var panelW = 291, panelH = 289;
var FONT = '"DejaVu Serif"';

function toSolar(p) { return [X0 + p[0] * CELL, Y0 - p[1] * CELL]; }

// left and right end of the field on one row of the grid
function rowSpan(r) {
    var k, a, b, x, lo = null, hi = null, n = fieldOutline.length;
    for (k = 0; k < n; k++) {
        a = fieldOutline[k]; b = fieldOutline[(k + 1) % n];
        if ((a[1] <= r && b[1] > r) || (b[1] <= r && a[1] > r)) {
            x = a[0] + (r - a[1]) / (b[1] - a[1]) * (b[0] - a[0]);
            lo = lo === null ? x : Math.min(lo, x);
            hi = hi === null ? x : Math.max(hi, x);
        }
    }
    return lo === null ? null : [lo, hi];
}
// the map edge steps with the grid
function steppedOutline() {
    var left = [], right = [], r, s;
    for (r = 4; r <= 94; r++) {
        s = rowSpan(r + 0.5);
        if (!s) continue;
        right.push([Math.round(s[1]), r], [Math.round(s[1]), r + 1]);
        left.unshift([Math.round(s[0]), r + 1], [Math.round(s[0]), r]);
    }
    return right.concat(left);
}
var fieldSteps = steppedOutline();

function cellPoints(flat) {
    var out = [], s;
    for (var k = 0; k < flat.length; k += 2) {
        s = rowSpan(flat[k + 1]);
        if (s && flat[k] >= s[0] && flat[k] <= s[1]) out.push(toSolar([flat[k], flat[k + 1]]));
    }
    return out;
}
function minusLabel(v) { return String(v).replace('-', '\u2212'); }

var dom = document.getElementById("container");
var myChart = echarts.init(dom);
var option = null;

var grids = [], xAxes = [], yAxes = [], series = [], titles = [];

titles.push({
    text: 'H\u03b1 post-impulsive, preferred models',
    left: 808, top: 7, textAlign: 'center',
    textStyle: {fontFamily: FONT, fontSize: 34.5, fontWeight: 'normal', color: '#000'}
});

offsets.forEach(function (label, i) {
    var col = i % 5, row = i < 5 ? 0 : 1;
    grids.push({left: panelLefts[col], top: panelTops[row], width: panelW, height: panelH,
        show: true, borderColor: '#111', borderWidth: 1, backgroundColor: 'transparent'});
    var showX = row === 1, showY = col === 0;
    // main axes, the minor ticks go on a second pair further down
    xAxes.push({
        type: 'value', gridIndex: i, min: xMin, max: xMax, position: 'bottom', show: showX,
        splitLine: {show: false}, axisLine: {show: false},
        axisTick: {show: true, length: 6, lineStyle: {color: '#111'}, customValues: xTicks},
        axisLabel: {show: true, customValues: xTicks, formatter: minusLabel, margin: 9,
            fontFamily: FONT, fontSize: 18.5, color: '#000'},
        name: i === 7 ? 'Solar X [arcsec]' : '', nameLocation: 'middle', nameGap: 38,
        nameTextStyle: {fontFamily: FONT, fontSize: 24, color: '#000'}
    });
    yAxes.push({
        type: 'value', gridIndex: i, min: yMin, max: yMax, position: 'left', show: showY,
        splitLine: {show: false}, axisLine: {show: false},
        axisTick: {show: true, length: 6, lineStyle: {color: '#111'}, customValues: yTicks},
        axisLabel: {show: true, customValues: yTicks, formatter: minusLabel, margin: 9,
            fontFamily: FONT, fontSize: 18.5, color: '#000'},
        name: i === 5 ? 'Solar Y [arcsec]' : '', nameLocation: 'middle', nameGap: 71,
        nameTextStyle: {fontFamily: FONT, fontSize: 24, color: '#000'}
    });
    titles.push({
        text: label, right: 1660 - (panelLefts[col] + 266.5), top: panelTops[row] + 30,
        textStyle: {fontFamily: FONT, fontSize: 19.7, fontWeight: 'normal', color: '#000'}
    });

    series.push({
        type: 'custom', xAxisIndex: i, yAxisIndex: i, silent: true, z: 1, data: [0],
        renderItem: function (params, api) {
            return {type: 'polygon', shape: {points: fieldSteps.map(function (p) { return api.coord(toSolar(p)); })},
                style: {fill: modelColors[0]}};
        }
    });
    series.push({type: 'scatter', name: modelNames[1], xAxisIndex: i, yAxisIndex: i, silent: true, z: 2,
        symbol: 'rect', symbolSize: [3.5, 3.5], itemStyle: {color: modelColors[1]}, data: cellPoints(m2Cells[i])});
    series.push({type: 'scatter', name: modelNames[2], xAxisIndex: i, yAxisIndex: i, silent: true, z: 3,
        symbol: 'rect', symbolSize: [3.5, 3.5], itemStyle: {color: modelColors[2]}, data: cellPoints(m3Cells[i])});
    contours.forEach(function (c) {
        series.push({type: 'line', xAxisIndex: i, yAxisIndex: i, silent: true, z: 4, showSymbol: false, smooth: 0.3,
            lineStyle: {color: '#4a9ccf', width: 0.8}, data: c.map(toSolar)});
    });
    dottedContours.forEach(function (c) {
        series.push({type: 'line', xAxisIndex: i, yAxisIndex: i, silent: true, z: 5, showSymbol: false,
            lineStyle: {color: '#d0e9f6', width: 1.8, type: [1.8, 3.4]}, data: c.map(toSolar)});
    });
});

// minor ticks
offsets.forEach(function (label, i) {
    if (i >= 5) {
        xAxes.push({type: 'value', gridIndex: i, min: xMin, max: xMax, position: 'bottom',
            splitLine: {show: false}, axisLine: {show: false}, axisLabel: {show: false},
            axisTick: {show: true, length: 3, lineStyle: {color: '#111'}, customValues: xMinorTicks}});
    }
    if (i % 5 === 0) {
        yAxes.push({type: 'value', gridIndex: i, min: yMin, max: yMax, position: 'left',
            splitLine: {show: false}, axisLine: {show: false}, axisLabel: {show: false},
            axisTick: {show: true, length: 3, lineStyle: {color: '#111'}, customValues: yMinorTicks}});
    }
});

// colorbar
var cbIndex = grids.length;
var cbX = xAxes.length, cbY = yAxes.length;
grids.push({left: 1563, top: 163, width: 38, height: 375, show: true, borderColor: '#222', borderWidth: 1.5, backgroundColor: 'transparent', z: 10});
xAxes.push({type: 'category', gridIndex: cbIndex, show: false, data: ['model']});
yAxes.push({
    type: 'value', gridIndex: cbIndex, min: 0, max: 3, position: 'right',
    splitLine: {show: false}, axisLine: {show: false}, axisTick: {show: false},
    axisLabel: {show: true, customValues: [0.5, 1.5, 2.5], margin: 7, fontFamily: FONT, fontSize: 23, color: '#000',
        formatter: function (v) { return modelNames[Math.floor(v)]; }}
});
modelNames.forEach(function (name, k) {
    series.push({type: 'bar', name: name, xAxisIndex: cbX, yAxisIndex: cbY, stack: 'cb', barWidth: '100%', silent: true,
        itemStyle: {color: modelColors[k]}, data: [1]});
});

option = {
    animation: false,
    backgroundColor: '#fff',
    title: titles,
    grid: grids,
    xAxis: xAxes,
    yAxis: yAxes,
    series: series
};
if (option && typeof option === "object") {
    myChart.setOption(option, true);
}
</script>
</body>
</html>
